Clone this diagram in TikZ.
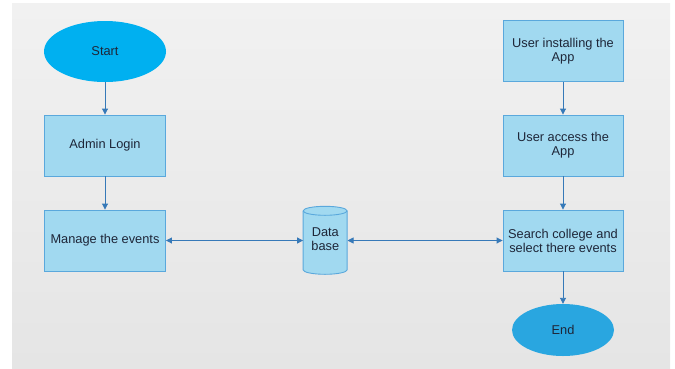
\documentclass[tikz,border=0pt]{standalone}
\usepackage{fontspec}
\setmainfont{Liberation Sans}
\usetikzlibrary{arrows.meta,shapes.geometric}
\definecolor{bgtop}{HTML}{F1F1F1}
\definecolor{bgbot}{HTML}{E5E5E5}
\definecolor{boxfill}{HTML}{A1D9F0}
\definecolor{boxline}{HTML}{5AA8DC}
\definecolor{startfill}{HTML}{00B0F0}
\definecolor{endfill}{HTML}{29A6E0}
\definecolor{arrowc}{HTML}{3679B8}
\definecolor{txt}{HTML}{1E2638}
\tikzset{
  every node/.style={font=\fontsize{12.8}{14}\selectfont, text=txt},
  stepbox/.style={rectangle, draw=boxline, fill=boxfill, line width=0.9pt,
    minimum width=121pt, minimum height=61pt, align=center, inner sep=1pt},
  term/.style={ellipse, fill=#1, draw=none, inner sep=0pt},
  conn/.style={draw=arrowc, line width=0.9pt, -{Triangle[width=6pt,length=6pt]}},
  bconn/.style={draw=arrowc, line width=0.9pt, {Triangle[width=6pt,length=6pt]}-{Triangle[width=6pt,length=6pt]}},
  dbline/.style={draw=boxline, line width=0.9pt},
}
\begin{document}
\begin{tikzpicture}[x=1pt,y=-1pt]
\useasboundingbox (0,0) rectangle (675,368);
\shade[top color=bgtop, bottom color=bgbot, draw=none] (12,3) rectangle (670,368);

\node[term=startfill, minimum width=122pt, minimum height=61pt] (start) at (105,51.5) {Start};
\node[stepbox] (admin) at (105,145.5) {Admin Login};
\node[stepbox] (manage) at (105,240.5) {Manage the events};

\node[stepbox, minimum width=120pt] (install) at (563,51) {User installing the\\App};
\node[stepbox, minimum width=120pt] (access) at (563,145.5) {User access the\\App};
\node[stepbox, minimum width=120pt] (search) at (563,240.5) {Search college and\\select there events};
\node[term=endfill, minimum width=102pt, minimum height=52pt] (end) at (563,330) {End};

% database cylinder
\node[rectangle, minimum width=44pt, minimum height=68pt, inner sep=0pt] (db) at (325.3,240.5) {};
\fill[boxfill] (db.north west) ++(0,4.5) -- ++(0,59) arc[start angle=180,end angle=360,x radius=22pt,y radius=4.5pt] -- ++(0,-59) arc[start angle=0,end angle=180,x radius=22pt,y radius=4.5pt] -- cycle;
\draw[dbline] (db.north west) ++(0,4.5) -- ++(0,59) arc[start angle=180,end angle=360,x radius=22pt,y radius=4.5pt] -- ++(0,-59);
\draw[dbline] (db.north west) ++(0,4.5) arc[start angle=180,end angle=-180,x radius=22pt,y radius=4.5pt];
\node[inner sep=0pt, align=center] (dbtext) at ([yshift=1pt]db.center) {Data\\base};

\draw[conn] (start) -- (admin);
\draw[conn] (admin) -- (manage);
\draw[bconn] (manage.east) -- (db.west);
\draw[bconn] (db.east) -- (search.west);
\draw[conn] (install) -- (access);
\draw[conn] (access) -- (search);
\draw[conn] (search) -- (end);
\end{tikzpicture}
\end{document}
